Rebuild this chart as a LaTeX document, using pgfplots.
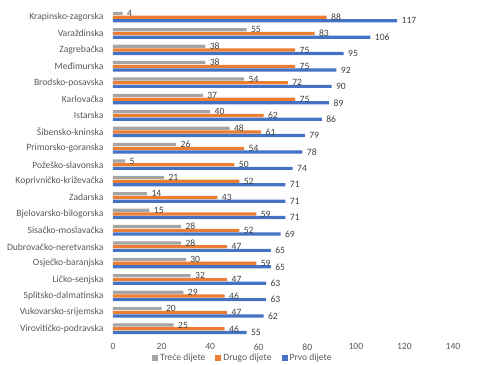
\documentclass[border=0pt]{standalone}
\usepackage{pgfplots}
\pgfplotsset{compat=1.18}
\usepackage{pgfplotstable}
\usepackage{fontspec}
\setmainfont{Carlito}
\definecolor{cblue}{HTML}{4472C4}
\definecolor{corange}{HTML}{ED7D31}
\definecolor{cgray}{HTML}{A5A5A5}
\definecolor{ctext}{HTML}{595959}
\definecolor{clabel}{HTML}{404040}

\pgfplotstableread{
idx trece drugo prvo
19 4 88 117
18 55 83 106
17 38 75 95
16 38 75 92
15 54 72 90
14 37 75 89
13 40 62 86
12 48 61 79
11 26 54 78
10 5 50 74
9 21 52 71
8 14 43 71
7 15 59 71
6 28 52 69
5 28 47 65
4 30 59 65
3 32 47 63
2 29 46 63
1 20 47 62
0 25 46 55
}\data

\begin{document}
\begin{tikzpicture}
\begin{axis}[
  scale only axis, width=340bp, height=328bp,
  xmin=0, xmax=140, ymin=-0.5, ymax=19.5,
  xbar, bar width=3.2bp,
  axis line style={draw=none},
  major tick length=0,
  xtick={0,20,...,140},
  ytick={0,...,19},
  yticklabels={Virovitičko-podravska,Vukovarsko-srijemska,Splitsko-dalmatinska,Ličko-senjska,Osječko-baranjska,Dubrovačko-neretvanska,Sisačko-moslavačka,Bjelovarsko-bilogorska,Zadarska,Koprivničko-križevačka,Požeško-slavonska,Primorsko-goranska,Šibensko-kninska,Istarska,Karlovačka,Brodsko-posavska,Međimurska,Zagrebačka,Varaždinska,Krapinsko-zagorska},
  /pgf/number format/assume math mode=true,
  tick label style={font=\fontsize{9.6bp}{11bp}\selectfont, text=ctext},
  yticklabel style={xshift=-6bp},
  xticklabel style={yshift=-3bp},
  nodes near coords,
  every node near coord/.append style={font=\fontsize{9.6bp}{11bp}\selectfont, text=clabel, anchor=west, xshift=1bp},
  legend style={at={(0.382,-0.064)}, anchor=center, legend columns=-1, draw=none, fill=none,
    font=\fontsize{9.6bp}{11bp}\selectfont, text=ctext,
    /tikz/every even column/.append style={column sep=8bp}},
  legend image code/.code={\fill[#1] (0bp,-3bp) rectangle (6bp,3bp);},
]
\addplot[fill=cgray, draw=none, bar shift=3.8bp] table[x=trece, y=idx] {\data};
\addplot[fill=corange, draw=none, bar shift=0bp] table[x=drugo, y=idx] {\data};
\addplot[fill=cblue, draw=none, bar shift=-3.6bp] table[x=prvo, y=idx] {\data};
\legend{Treće dijete, Drugo dijete, Prvo dijete}
\end{axis}
\pgfresetboundingbox
\path[use as bounding box] ([xshift=-113bp,yshift=-28bp]current axis.south west) rectangle ++(486bp,365bp);
\end{tikzpicture}
\end{document}
